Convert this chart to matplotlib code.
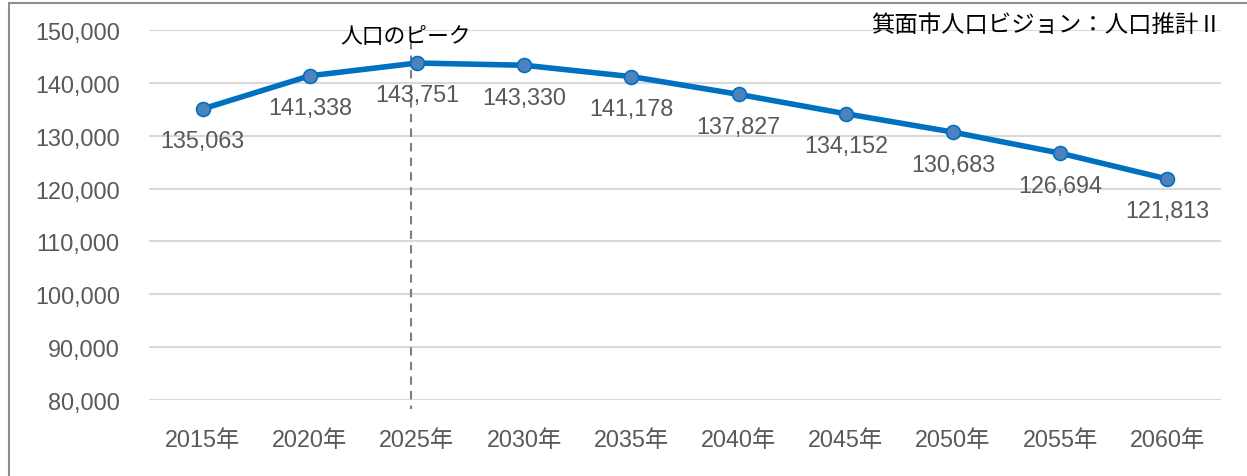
import matplotlib
matplotlib.use("Agg")
import matplotlib.pyplot as plt
from matplotlib.patches import Rectangle

categories = ["2015年", "2020年", "2025年", "2030年", "2035年", "2040年", "2045年", "2050年", "2055年", "2060年"]
population = [135063, 141338, 143751, 143330, 141178, 137827, 134152, 130683, 126694, 121813]
yticks = [80000, 90000, 100000, 110000, 120000, 130000, 140000, 150000]
title = "箕面市人口ビジョン：人口推計Ⅱ"
peak_label = "人口のピーク"
peak_index = 2

W, H = 1247, 477
fig = plt.figure(figsize=(W / 100, H / 100), dpi=100)
fam = ["Liberation Sans", "Noto Sans CJK JP", "DejaVu Sans"]
cjk = ["Noto Sans CJK JP", "DejaVu Sans"]
gray = "#595959"

ax = fig.add_axes([149 / W, 1 - 401 / H, (1221 - 149) / W, (401 - 31) / H])
x = list(range(len(categories)))
ax.set_xlim(-0.5, len(categories) - 0.5)
ax.set_ylim(80000, 150000)

ax.set_yticks(yticks)
ax.set_yticklabels([f"{v:,}" for v in yticks], fontsize=16.8, color=gray, family=fam)
ax.set_xticks(x)
ax.set_xticklabels(categories, fontsize=16.8, color=gray, family=fam)
ax.tick_params(length=0)
ax.tick_params(axis="y", pad=21)
ax.tick_params(axis="x", pad=20)
for s in ax.spines.values():
    s.set_visible(False)
ax.grid(axis="y", color="#D9D9D9", lw=1.5)
ax.set_axisbelow(True)

# peak dashed line
px = peak_index - 0.055
ax.plot([px, px], [148000, 78300], color="#7F7F7F", lw=1.5,
        ls=(0, (4, 3)), clip_on=False, zorder=1)
ax.text(px - 0.055, 148800, peak_label, ha="center", va="center", fontsize=15.7,
        color="black", family=cjk)

ax.plot(x, population, color="#0070C0", lw=4, marker="o", markersize=10,
        markerfacecolor="#4F81BD", markeredgecolor="#0070C0", markeredgewidth=1.2,
        zorder=3, solid_joinstyle="round")

for xi, v in zip(x, population):
    ax.annotate(f"{v:,}", (xi, v), xytext=(0, -23), textcoords="offset points",
                ha="center", va="center", fontsize=16.8, color=gray, family=fam, zorder=4)

fig.text(1222 / W, 1 - 25 / H, title, ha="right", va="center", fontsize=16.8,
         color="black", family=cjk)

# outer border
fig.patches.append(Rectangle((8.5 / W, -0.1), 1.2, 1.1 - 3.5 / H, transform=fig.transFigure,
                             fill=False, edgecolor="#8C8C8C", lw=1.5))

fig.savefig("out.png", dpi=100)
